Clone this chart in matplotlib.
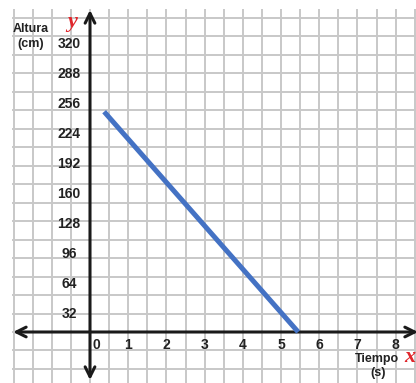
import matplotlib
matplotlib.use("Agg")
import matplotlib.pyplot as plt
from matplotlib import font_manager

# Data: height (cm) against time (s)
tiempo = [0.37, 5.45]
altura = [235, 0]

x_ticks = [0, 1, 2, 3, 4, 5, 6, 7, 8]
y_ticks = [32, 64, 96, 128, 160, 192, 224, 256, 288, 320]

# Scale: pixels per unit
PX_PER_S = 38.2
PX_PER_CM = 30 / 32
GRID_Y_PX = 18.47

W, H = 416, 383
X0_PX, Y0_PX = 90, 332  # origin location in pixels (from left / from top)

def px_to_t(px):
    return (px - X0_PX) / PX_PER_S

def py_to_h(py):
    return (Y0_PX - py) / PX_PER_CM

names = {f.name for f in font_manager.fontManager.ttflist}
narrow = "Liberation Sans Narrow" if "Liberation Sans Narrow" in names else "Liberation Sans"
sans = [narrow, "DejaVu Sans"]

fig = plt.figure(figsize=(W / 100, H / 100), dpi=100)
ax = fig.add_axes([0, 0, 1, 1])
ax.set_xlim(px_to_t(0), px_to_t(W))
ax.set_ylim(py_to_h(H), py_to_h(0))
ax.axis("off")

grid_kw = dict(color="#c8c8c8", lw=1.4, zorder=1)
# vertical grid lines every half second
t_top, t_bot = py_to_h(10), py_to_h(H)
for k in range(-4, 18):
    t = k * 0.5
    ax.plot([t, t], [t_bot, t_top], **grid_kw)
# horizontal grid lines
for k in range(-3, 18):
    h = k * GRID_Y_PX / PX_PER_CM
    ax.plot([px_to_t(13), px_to_t(W)], [h, h], **grid_kw)

# axes with arrow heads
arrow_kw = dict(arrowstyle="<->,head_length=0.7,head_width=0.35", lw=2.2, color="#1a1a1a",
                shrinkA=0, shrinkB=0)
ax.annotate("", xy=(0, py_to_h(10)), xytext=(0, py_to_h(380)), arrowprops=arrow_kw,
            annotation_clip=False, zorder=3)
ax.annotate("", xy=(px_to_t(418), 0), xytext=(px_to_t(13), 0), arrowprops=arrow_kw,
            annotation_clip=False, zorder=3)

# data line
ax.plot(tiempo, altura, color="#4472c4", lw=3.6, solid_capstyle="butt", zorder=4)

lab_kw = dict(fontsize=10, fontweight="bold", family=sans, color="#222222",
              ha="center", va="center", zorder=5)
for v in y_ticks:
    ax.annotate(str(v), xy=(px_to_t(69), v), xytext=(0, -12),
                textcoords="offset pixels", **lab_kw)
for v in x_ticks:
    dx = 6 if v == 0 else 0
    ax.annotate(str(v), xy=(v, 0), xytext=(dx, -13),
                textcoords="offset pixels", **lab_kw)

txt_kw = dict(fontsize=9, fontweight="bold", family=sans, color="#222222",
              ha="center", va="center", zorder=5)
ax.text(px_to_t(31), py_to_h(29), "Altura", **txt_kw)
ax.text(px_to_t(31), py_to_h(44), "(cm)", **txt_kw)
ax.text(px_to_t(377), py_to_h(359), "Tiempo", **txt_kw)
ax.text(px_to_t(378), py_to_h(373), "(s)", **txt_kw)

var_kw = dict(fontsize=16, fontweight="bold", style="italic",
              family=["Liberation Serif", "DejaVu Serif"], color="#e0262b",
              ha="center", va="center", zorder=5)
ax.text(px_to_t(72), py_to_h(22), "y", **var_kw)
ax.text(px_to_t(410), py_to_h(357), "x", **var_kw)

fig.savefig("out.png", dpi=100)
